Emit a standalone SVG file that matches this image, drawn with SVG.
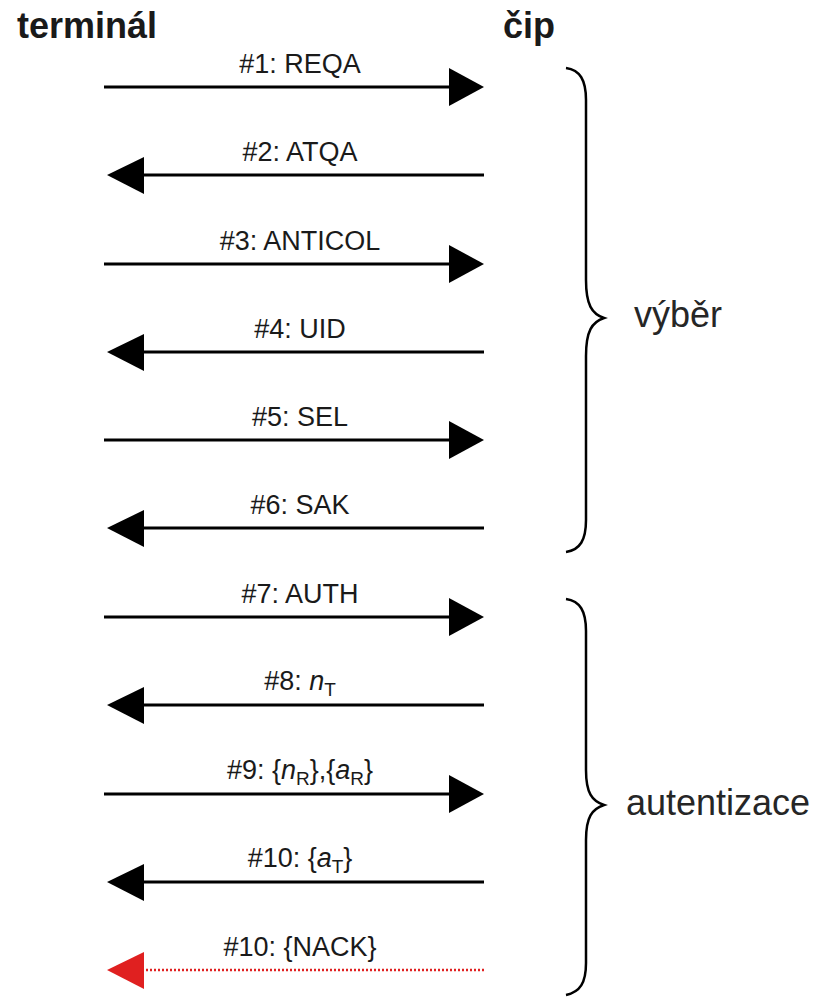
<svg xmlns="http://www.w3.org/2000/svg" width="823" height="998" viewBox="0 0 823 998">
<defs>
<style>
.t{font-family:"Liberation Sans",Arial,sans-serif;font-weight:bold;font-size:36px;fill:#1a1a1a}
.l{font-family:"Liberation Sans",Arial,sans-serif;font-size:27px;fill:#1a1a1a;text-anchor:middle}
.g{font-family:"Liberation Sans",Arial,sans-serif;font-size:36px;fill:#262626}
.ln{stroke:#000;stroke-width:3;fill:none}
.nk{stroke:#e02020;stroke-width:2.5;stroke-dasharray:2 2;fill:none}
.hd{fill:#000}
.br{stroke:#000;stroke-width:2.5;fill:none}
</style>
</defs>
<rect width="823" height="998" fill="#fff"/>
<g id="terminal"><text class="t" x="17" y="38">terminál</text></g>
<g id="cip"><text class="t" x="503" y="38">čip</text></g>
<g id="connectors">
<g id="m1"><line class="ln" x1="104" y1="87" x2="452" y2="87"/><polygon class="hd" points="449,68 484,87 449,106"/><text class="l" x="300" y="73">#1: REQA</text></g>
<g id="m2"><line class="ln" x1="140" y1="175" x2="484" y2="175"/><polygon class="hd" points="144,157 107,175 144,194"/><text class="l" x="300" y="161">#2: ATQA</text></g>
<g id="m3"><line class="ln" x1="104" y1="264" x2="452" y2="264"/><polygon class="hd" points="449,245 484,264 449,283"/><text class="l" x="300" y="250">#3: ANTICOL</text></g>
<g id="m4"><line class="ln" x1="140" y1="352" x2="484" y2="352"/><polygon class="hd" points="144,334 107,352 144,371"/><text class="l" x="300" y="338">#4: UID</text></g>
<g id="m5"><line class="ln" x1="104" y1="440" x2="452" y2="440"/><polygon class="hd" points="449,421 484,440 449,459"/><text class="l" x="300" y="426">#5: SEL</text></g>
<g id="m6"><line class="ln" x1="140" y1="528" x2="484" y2="528"/><polygon class="hd" points="144,510 107,528 144,547"/><text class="l" x="300" y="514">#6: SAK</text></g>
<g id="m7"><line class="ln" x1="104" y1="617" x2="452" y2="617"/><polygon class="hd" points="449,598 484,617 449,636"/><text class="l" x="300" y="603">#7: AUTH</text></g>
<g id="m8"><line class="ln" x1="140" y1="705" x2="484" y2="705"/><polygon class="hd" points="144,687 107,705 144,724"/><text class="l" x="300" y="690">#8: <tspan font-style="italic">n</tspan><tspan font-size="19" dy="6">T</tspan></text></g>
<g id="m9"><line class="ln" x1="104" y1="794" x2="452" y2="794"/><polygon class="hd" points="449,775 484,794 449,813"/><text class="l" x="300" y="779">#9: {<tspan font-style="italic">n</tspan><tspan font-size="19" dy="6">R</tspan><tspan dy="-6">},{</tspan><tspan font-style="italic">a</tspan><tspan font-size="19" dy="6">R</tspan><tspan dy="-6">}</tspan></text></g>
<g id="m10"><line class="ln" x1="140" y1="882" x2="484" y2="882"/><polygon class="hd" points="144,864 107,882 144,901"/><text class="l" x="300" y="867">#10: {<tspan font-style="italic">a</tspan><tspan font-size="19" dy="6">T</tspan><tspan dy="-6">}</tspan></text></g>
<g id="m11"><line class="nk" x1="142" y1="970" x2="484" y2="970"/><polygon fill="#e02020" points="144,952 107,970 144,989"/><text class="l" x="300" y="956">#10: {NACK}</text></g>
</g>
<g id="vyber">
<path class="br" d="M566,68 C580,70 586,80 586,100 L586,280 C586,305 592,314 604,318 C592,322 586,331 586,356 L586,520 C586,540 580,550 566,552"/>
<text class="g" x="634" y="327">výběr</text>
</g>
<g id="autentizace">
<path class="br" d="M566,599 C580,601 586,611 586,631 L586,770 C586,793 592,801 604,805 C592,809 586,817 586,840 L586,963 C586,983 580,992 566,995"/>
<text class="g" x="626" y="815">autentizace</text>
</g>
</svg>
